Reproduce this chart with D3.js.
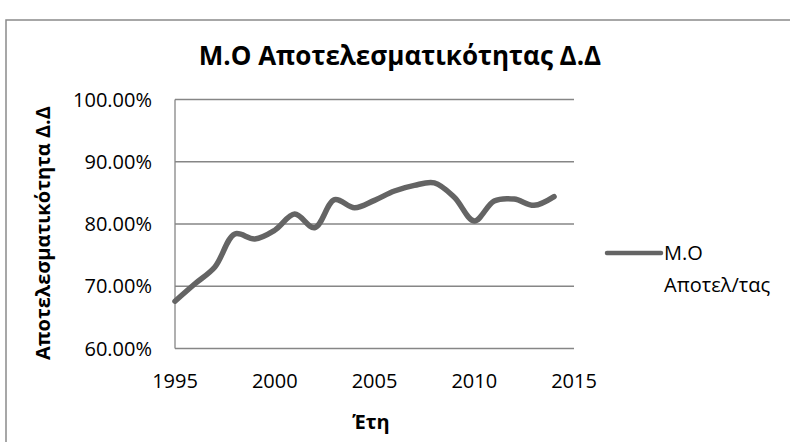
<!DOCTYPE html>
<html>
<head>
<meta charset="utf-8">
<script src="https://cdn.jsdelivr.net/npm/d3@7"></script>
<style>
  html, body { margin: 0; padding: 0; background: #fff; }
  svg { display: block; }
  text { font-family: "Open Sans", "Noto Sans", sans-serif; fill: #000; }
</style>
</head>
<body>
<script>
const years = [1995, 1996, 1997, 1998, 1999, 2000, 2001, 2002, 2003, 2004,
               2005, 2006, 2007, 2008, 2009, 2010, 2011, 2012, 2013, 2014];
const efficiency = [0.676, 0.704, 0.731, 0.784, 0.776, 0.790, 0.816, 0.794, 0.839, 0.826,
                    0.838, 0.853, 0.862, 0.866, 0.843, 0.805, 0.837, 0.840, 0.830, 0.844];
const xTicks = [1995, 2000, 2005, 2010, 2015];
const yTicks = [0.6, 0.7, 0.8, 0.9, 1.0];
const chartTitle = "Μ.Ο Αποτελεσματικότητας Δ.Δ";
const yTitle = "Αποτελεσματικότητα Δ.Δ";
const xTitle = "Έτη";
const seriesName = ["Μ.Ο", "Αποτελ/τας"];

const W = 790, H = 442;
const svg = d3.select("body").append("svg").attr("width", W).attr("height", H);

// outer chart frame (only top/left visible)
svg.append("path")
  .attr("d", `M6,${H + 2} L6,20 L${W + 2},20`)
  .attr("fill", "none").attr("stroke", "#8a8a8a").attr("stroke-width", 1.5);

const x = d3.scaleLinear().domain([1995, 2015]).range([175, 574]);
const y = d3.scaleLinear().domain([0.6, 1.0]).range([348.5, 99.5]);

// gridlines
svg.append("g").selectAll("line").data(yTicks).join("line")
  .attr("x1", x(1995)).attr("x2", x(2015))
  .attr("y1", d => y(d)).attr("y2", d => y(d))
  .attr("stroke", "#868686").attr("stroke-width", 1.3);

// y axis line
svg.append("line")
  .attr("x1", x(1995)).attr("x2", x(1995))
  .attr("y1", y(1.0)).attr("y2", y(0.6))
  .attr("stroke", "#868686").attr("stroke-width", 1.3);

// y tick labels
svg.append("g").selectAll("text").data(yTicks).join("text")
  .attr("x", 152).attr("y", d => y(d))
  .attr("dy", "0.35em")
  .attr("text-anchor", "end")
  .attr("font-size", 20)
  .text(d => d3.format(".2%")(d));

// x tick labels
svg.append("g").selectAll("text").data(xTicks).join("text")
  .attr("x", d => x(d)).attr("y", 381)
  .attr("dy", "0.35em")
  .attr("text-anchor", "middle")
  .attr("font-size", 20)
  .text(d => d);

// line
const line = d3.line()
  .x((d, i) => x(years[i]))
  .y(d => y(d))
  .curve(d3.curveCatmullRom.alpha(0.5));
svg.append("path")
  .datum(efficiency)
  .attr("d", line)
  .attr("fill", "none")
  .attr("stroke", "#646464")
  .attr("stroke-width", 5.5)
  .attr("stroke-linecap", "round")
  .attr("stroke-linejoin", "round");

// title
svg.append("text")
  .attr("x", 400).attr("y", 65)
  .attr("text-anchor", "middle")
  .attr("font-size", 26).attr("font-weight", "bold")
  .text(chartTitle);

// y title
svg.append("text")
  .attr("transform", "translate(50,233) rotate(-90)")
  .attr("text-anchor", "middle")
  .attr("font-size", 20).attr("font-weight", "bold")
  .text(yTitle);

// x title
svg.append("text")
  .attr("x", 371).attr("y", 429)
  .attr("text-anchor", "middle")
  .attr("font-size", 20).attr("font-weight", "bold")
  .text(xTitle);

// legend
svg.append("line")
  .attr("x1", 607).attr("x2", 661).attr("y1", 253).attr("y2", 253)
  .attr("stroke", "#646464").attr("stroke-width", 4.5)
  .attr("stroke-linecap", "round");
svg.append("text").attr("x", 664).attr("y", 253).attr("dy", "0.35em")
  .attr("font-size", 20).text(seriesName[0]);
svg.append("text").attr("x", 664).attr("y", 285).attr("dy", "0.35em")
  .attr("font-size", 20).text(seriesName[1]);
</script>
</body>
</html>
